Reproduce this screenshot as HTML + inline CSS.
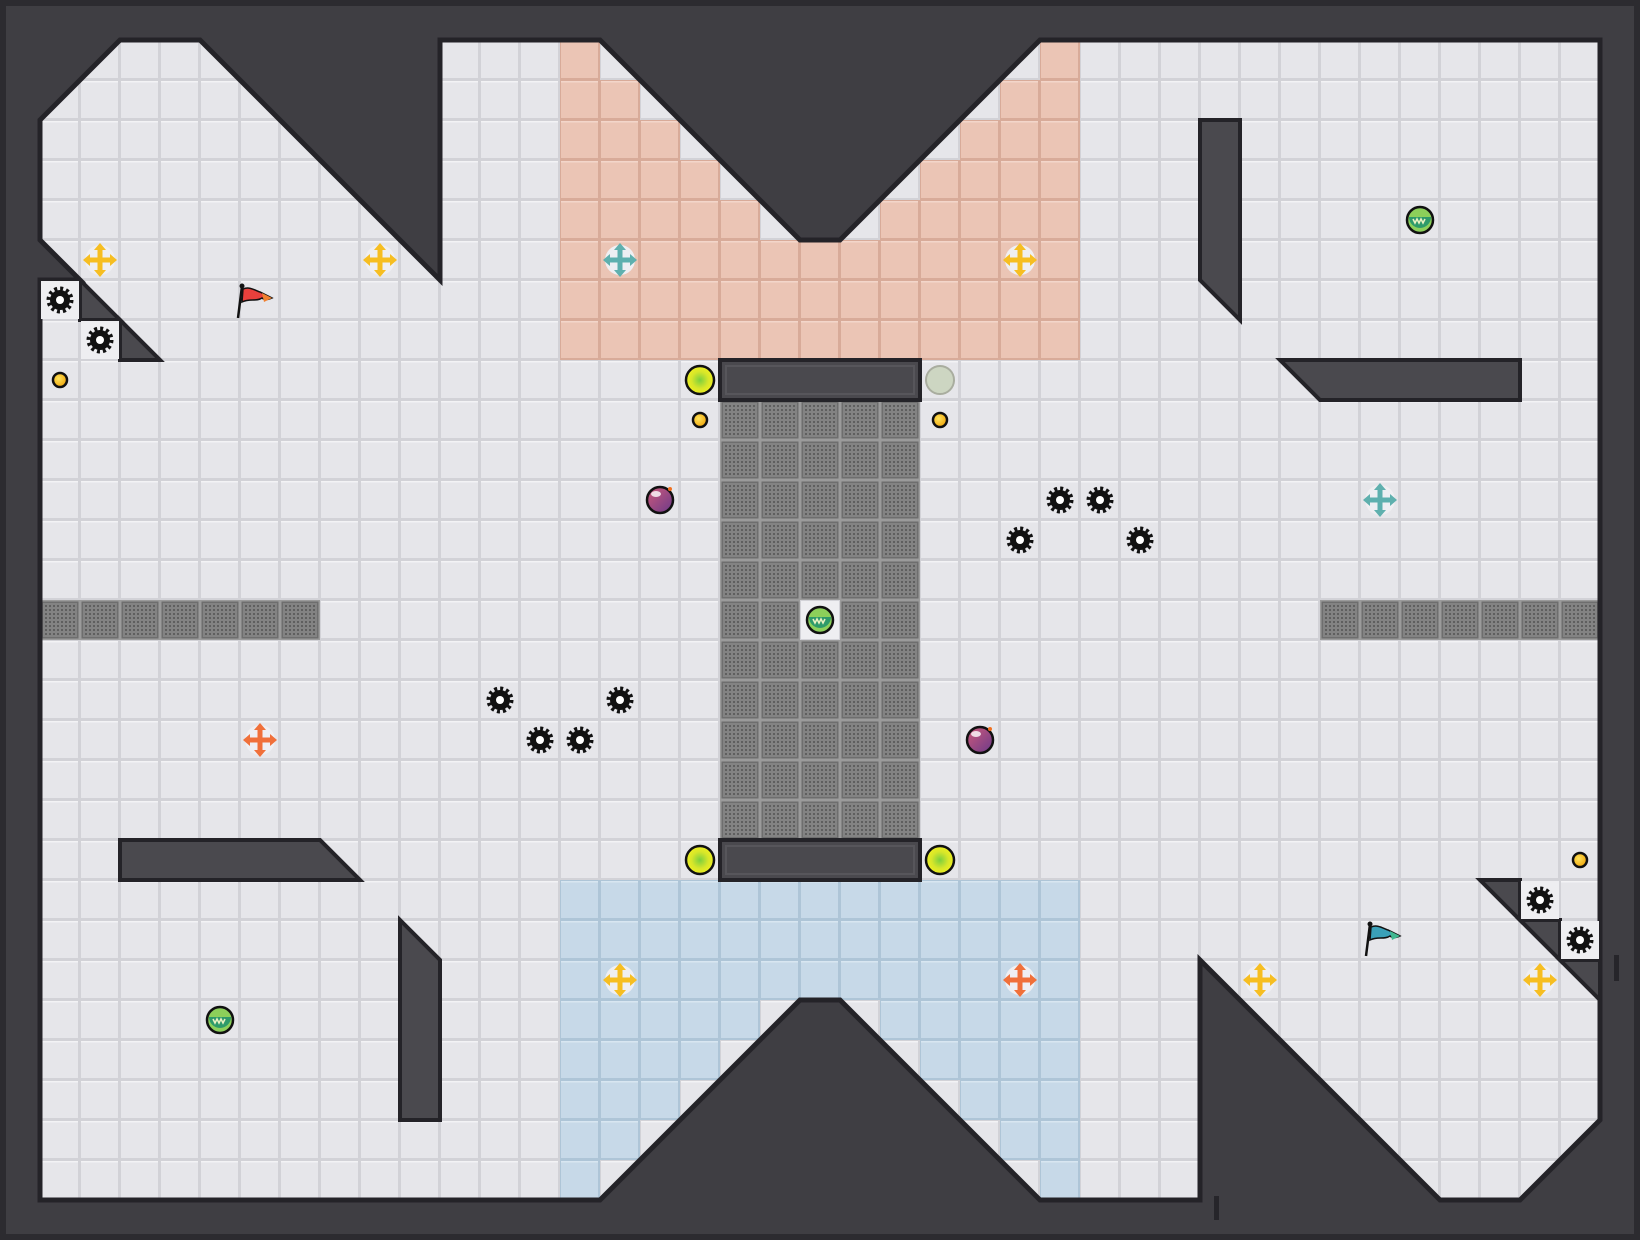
<!DOCTYPE html>
<html><head><meta charset="utf-8"><style>html,body{margin:0;padding:0;background:#3f3e43}svg{display:block}</style></head><body>
<svg width="1640" height="1240" viewBox="0 0 1640 1240" xmlns="http://www.w3.org/2000/svg">
<defs>
<pattern id="gL" x="40" y="40" width="40" height="40" patternUnits="userSpaceOnUse">
<rect width="40" height="40" fill="#d2d2d7"/><rect x="1" y="1" width="37" height="37" fill="#e6e6ea"/><rect x="1" y="1" width="37" height="1.5" fill="#f3f3f5"/></pattern>
<pattern id="gS" x="40" y="40" width="40" height="40" patternUnits="userSpaceOnUse">
<rect width="40" height="40" fill="#d8ab99"/><rect x="1" y="1" width="37" height="37" fill="#ebc5b5"/><rect x="1" y="1" width="37" height="1.5" fill="#f3d6ca"/></pattern>
<pattern id="gB" x="40" y="40" width="40" height="40" patternUnits="userSpaceOnUse">
<rect width="40" height="40" fill="#aec5d7"/><rect x="1" y="1" width="37" height="37" fill="#c7d9e8"/><rect x="1" y="1" width="37" height="1.5" fill="#d8e6f1"/></pattern>
<pattern id="dots" x="0" y="0" width="4" height="4" patternUnits="userSpaceOnUse"><rect width="4" height="4" fill="#838383"/><rect x="1" y="1" width="2" height="2" fill="#5f5f5f"/></pattern>
<g id="grate"><rect width="40" height="40" fill="#9b9b9b"/><rect x="1.5" y="1.5" width="37" height="37" fill="#6e6e6e"/><rect x="3" y="3" width="34" height="34" fill="url(#dots)"/></g>
<g id="gear"><circle r="10" fill="#111"/><circle r="11.5" fill="none" stroke="#111" stroke-width="4" stroke-dasharray="3 3"/><circle r="4" fill="#fff"/></g>
<g id="cross"><circle r="15" fill="#efeff2"/>
<path fill="currentColor" d="M-2.5,-10 h5 v7.5 h7.5 v5 h-7.5 v7.5 h-5 v-7.5 h-7.5 v-5 h7.5z M0,-17 l-6,7 h12z M0,17 l-6,-7 h12z M-17,0 l7,-6 v12z M17,0 l-7,-6 v12z"/></g>
<radialGradient id="yg" cx="0.5" cy="0.5" r="0.5"><stop offset="0" stop-color="#7ccf3e"/><stop offset="0.6" stop-color="#d7e62a"/><stop offset="1" stop-color="#eef020"/></radialGradient>
<radialGradient id="yd" cx="0.4" cy="0.4" r="0.6"><stop offset="0" stop-color="#ffe45a"/><stop offset="1" stop-color="#f0a810"/></radialGradient>
<linearGradient id="pb" x1="0" y1="0" x2="1" y2="1"><stop offset="0" stop-color="#d05a7a"/><stop offset="1" stop-color="#6a3a8a"/></linearGradient>
<g id="gorb"><circle r="13" fill="#8ccf5a" stroke="#111" stroke-width="2.5"/><path d="M-11,-3 h22 a11,11 0 0 1 -22,0z" fill="#2e9a6a"/><path d="M-7,-1 l2,4 l2,-4 l2,4 l2,-4 l2,4 l2,-4" stroke="#e8f0c0" stroke-width="1.6" fill="none"/></g>
<g id="bomb"><circle r="13" fill="url(#pb)" stroke="#111" stroke-width="2.5"/><ellipse cx="-4" cy="-6" rx="5" ry="3" fill="#fff" opacity="0.8"/><circle cx="10" cy="-11" r="2" fill="#f07020"/></g>
<g id="bigorb"><circle r="14" fill="url(#yg)" stroke="#111" stroke-width="2.5"/></g>
<g id="sdot"><circle r="7" fill="url(#yd)" stroke="#111" stroke-width="2.5"/></g>
</defs>
<rect width="1640" height="1240" fill="#3f3e43"/>
<rect x="3" y="3" width="1634" height="1234" fill="none" stroke="#2c2b30" stroke-width="6"/>
<polygon fill="url(#gL)" points="40,120 120,40 200,40 440,280 440,40 600,40 800,240 840,240 1040,40 1600,40 1600,1120 1520,1200 1440,1200 1200,960 1200,1200 1040,1200 840,1000 800,1000 600,1200 40,1200 40,280 80,280 40,240"/>
<polygon fill="url(#gS)" points="560,40 600,40 600,80 640,80 640,120 680,120 680,160 720,160 720,200 760,200 760,240 880,240 880,200 920,200 920,160 960,160 960,120 1000,120 1000,80 1040,80 1040,40 1080,40 1080,360 560,360"/>
<polygon fill="url(#gB)" points="560,880 1080,880 1080,1200 1040,1200 1040,1160 1000,1160 1000,1120 960,1120 960,1080 920,1080 920,1040 880,1040 880,1000 760,1000 760,1040 720,1040 720,1080 680,1080 680,1120 640,1120 640,1160 600,1160 600,1200 560,1200"/>
<g>
<use href="#grate" x="720" y="400"/><use href="#grate" x="760" y="400"/><use href="#grate" x="800" y="400"/><use href="#grate" x="840" y="400"/><use href="#grate" x="880" y="400"/>
<use href="#grate" x="720" y="440"/><use href="#grate" x="760" y="440"/><use href="#grate" x="800" y="440"/><use href="#grate" x="840" y="440"/><use href="#grate" x="880" y="440"/>
<use href="#grate" x="720" y="480"/><use href="#grate" x="760" y="480"/><use href="#grate" x="800" y="480"/><use href="#grate" x="840" y="480"/><use href="#grate" x="880" y="480"/>
<use href="#grate" x="720" y="520"/><use href="#grate" x="760" y="520"/><use href="#grate" x="800" y="520"/><use href="#grate" x="840" y="520"/><use href="#grate" x="880" y="520"/>
<use href="#grate" x="720" y="560"/><use href="#grate" x="760" y="560"/><use href="#grate" x="800" y="560"/><use href="#grate" x="840" y="560"/><use href="#grate" x="880" y="560"/>
<use href="#grate" x="720" y="600"/><use href="#grate" x="760" y="600"/><use href="#grate" x="840" y="600"/><use href="#grate" x="880" y="600"/>
<use href="#grate" x="720" y="640"/><use href="#grate" x="760" y="640"/><use href="#grate" x="800" y="640"/><use href="#grate" x="840" y="640"/><use href="#grate" x="880" y="640"/>
<use href="#grate" x="720" y="680"/><use href="#grate" x="760" y="680"/><use href="#grate" x="800" y="680"/><use href="#grate" x="840" y="680"/><use href="#grate" x="880" y="680"/>
<use href="#grate" x="720" y="720"/><use href="#grate" x="760" y="720"/><use href="#grate" x="800" y="720"/><use href="#grate" x="840" y="720"/><use href="#grate" x="880" y="720"/>
<use href="#grate" x="720" y="760"/><use href="#grate" x="760" y="760"/><use href="#grate" x="800" y="760"/><use href="#grate" x="840" y="760"/><use href="#grate" x="880" y="760"/>
<use href="#grate" x="720" y="800"/><use href="#grate" x="760" y="800"/><use href="#grate" x="800" y="800"/><use href="#grate" x="840" y="800"/><use href="#grate" x="880" y="800"/>
<use href="#grate" x="40" y="600"/><use href="#grate" x="80" y="600"/><use href="#grate" x="120" y="600"/><use href="#grate" x="160" y="600"/><use href="#grate" x="200" y="600"/><use href="#grate" x="240" y="600"/><use href="#grate" x="280" y="600"/>
<use href="#grate" x="1320" y="600"/><use href="#grate" x="1360" y="600"/><use href="#grate" x="1400" y="600"/><use href="#grate" x="1440" y="600"/><use href="#grate" x="1480" y="600"/><use href="#grate" x="1520" y="600"/><use href="#grate" x="1560" y="600"/>
</g>
<polygon fill="none" stroke="#242328" stroke-width="5" points="40,120 120,40 200,40 440,280 440,40 600,40 800,240 840,240 1040,40 1600,40 1600,1120 1520,1200 1440,1200 1200,960 1200,1200 1040,1200 840,1000 800,1000 600,1200 40,1200 40,280 80,280 40,240"/>
<g fill="#4a494e" stroke="#242328" stroke-width="4">
<polygon points="80,280 80,320 120,320"/>
<polygon points="120,320 120,360 160,360"/>
<polygon points="1200,120 1240,120 1240,320 1200,280"/>
<polygon points="1280,360 1520,360 1520,400 1320,400"/>
<rect x="720" y="360" width="200" height="40"/>
<rect x="720" y="840" width="200" height="40"/>
<polygon points="120,840 320,840 360,880 120,880"/>
<polygon points="400,920 440,960 440,1120 400,1120"/>
<polygon points="1480,880 1520,880 1520,920"/>
<polygon points="1520,920 1560,920 1560,960"/>
<polygon points="1560,960 1600,960 1600,1000"/>
</g>
<g fill="none" stroke="#57565b" stroke-width="2">
<rect x="726" y="366" width="188" height="28"/><rect x="726" y="846" width="188" height="28"/>
</g>
<rect x="1614" y="955" width="5" height="26" fill="#26252a"/>
<rect x="1214" y="1196" width="5" height="24" fill="#26252a"/>
<g fill="#eeeef1">
<rect x="41" y="281" width="38" height="38"/><rect x="81" y="321" width="38" height="38"/><rect x="801" y="601" width="38" height="38"/>
<rect x="1521" y="881" width="38" height="38"/><rect x="1561" y="921" width="38" height="38"/>
</g>
<use href="#cross" x="100" y="260" style="color:#f6be22"/>
<use href="#cross" x="380" y="260" style="color:#f6be22"/>
<use href="#cross" x="1020" y="260" style="color:#f6be22"/>
<use href="#cross" x="620" y="980" style="color:#f6be22"/>
<use href="#cross" x="1260" y="980" style="color:#f6be22"/>
<use href="#cross" x="1540" y="980" style="color:#f6be22"/>
<use href="#cross" x="620" y="260" style="color:#5fb0ae"/>
<use href="#cross" x="1380" y="500" style="color:#5fb0ae"/>
<use href="#cross" x="260" y="740" style="color:#f0703a"/>
<use href="#cross" x="1020" y="980" style="color:#f0703a"/>
<use href="#gear" x="60" y="300"/><use href="#gear" x="100" y="340"/>
<use href="#gear" x="1060" y="500"/><use href="#gear" x="1100" y="500"/>
<use href="#gear" x="1020" y="540"/><use href="#gear" x="1140" y="540"/>
<use href="#gear" x="500" y="700"/><use href="#gear" x="620" y="700"/>
<use href="#gear" x="540" y="740"/><use href="#gear" x="580" y="740"/>
<use href="#gear" x="1540" y="900"/><use href="#gear" x="1580" y="940"/>
<use href="#gorb" x="1420" y="220"/><use href="#gorb" x="820" y="620"/><use href="#gorb" x="220" y="1020"/>
<use href="#bomb" x="660" y="500"/><use href="#bomb" x="980" y="740"/>
<use href="#bigorb" x="700" y="380"/><use href="#bigorb" x="700" y="860"/><use href="#bigorb" x="940" y="860"/>
<circle cx="940" cy="380" r="14" fill="#cdd6c2" stroke="#a9ad9f" stroke-width="2"/>
<use href="#sdot" x="60" y="380"/><use href="#sdot" x="700" y="420"/><use href="#sdot" x="940" y="420"/><use href="#sdot" x="1580" y="860"/>
<g transform="translate(242,286)">
<line x1="0" y1="0" x2="-4" y2="32" stroke="#111" stroke-width="2.5"/><circle cx="0" cy="0" r="2.5" fill="#111"/>
<path d="M1,3 C8,0 14,5 18,6 L30,12 C26,14 22,14 20,12 C14,16 8,12 0,16z" fill="#e8403c" stroke="#111" stroke-width="1.5"/>
<path d="M20,7 L30,12 L22,16z" fill="#f08030"/></g>
<g transform="translate(1370,924)">
<line x1="0" y1="0" x2="-4" y2="32" stroke="#111" stroke-width="2.5"/><circle cx="0" cy="0" r="2.5" fill="#111"/>
<path d="M1,3 C8,0 14,5 18,6 L30,12 C26,14 22,14 20,12 C14,16 8,12 0,16z" fill="#3aa0b8" stroke="#111" stroke-width="1.5"/>
<path d="M20,7 L30,12 L22,16z" fill="#40b890"/></g>
</svg>
</body></html>
